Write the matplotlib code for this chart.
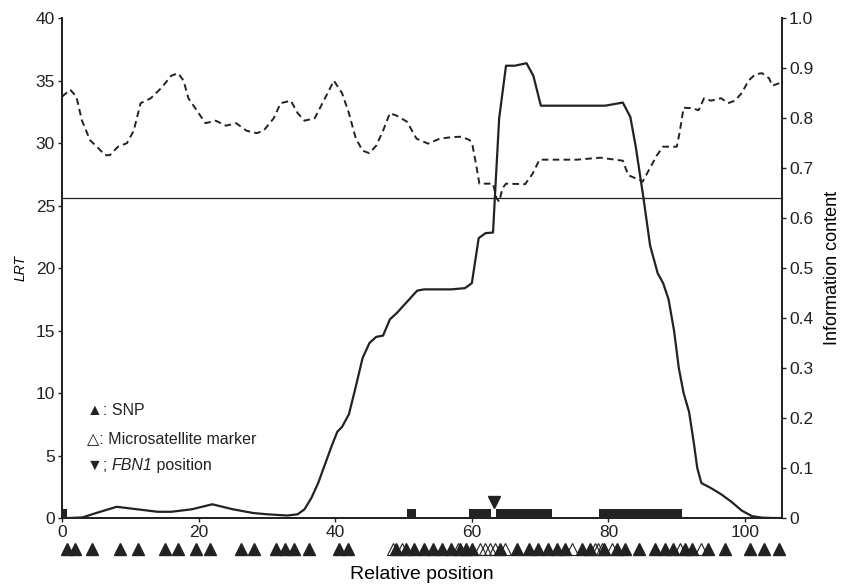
import matplotlib
matplotlib.use("Agg")
import matplotlib.pyplot as plt
import matplotlib.transforms as mtransforms

plt.rcParams['font.family'] = ['Liberation Sans', 'DejaVu Sans']

# LRT curve (left axis)
lrt_x = [0, 1, 3, 5, 8, 11, 14, 16, 19, 22, 25, 28, 30, 33, 34.5, 35.5, 36.5, 37.5, 38.5,
         39.5, 40.3, 41, 42, 43, 44, 45, 46, 47, 48, 49, 50, 51, 52, 53, 55, 57, 59, 60,
         61, 62, 63.1, 63.5, 64, 65, 66.3, 68, 69, 70.1, 76, 79.5, 82.1, 83.2, 84, 85.1,
         86.1, 87.2, 88, 88.8, 89.6, 90.3, 91, 91.8, 92.5, 93, 93.6, 95, 96.5, 98, 99.5,
         101, 102.5, 104, 105]
lrt_y = [0, 0, 0.05, 0.4, 0.9, 0.7, 0.5, 0.5, 0.7, 1.1, 0.7, 0.4, 0.3, 0.2, 0.3, 0.7, 1.6,
         2.8, 4.3, 5.8, 6.9, 7.3, 8.3, 10.5, 12.8, 14.0, 14.5, 14.6, 15.9, 16.4, 17.0, 17.6,
         18.2, 18.3, 18.3, 18.3, 18.4, 18.8, 22.4, 22.8, 22.85, 27, 32, 36.2, 36.2, 36.4,
         35.4, 33.0, 33.0, 33.0, 33.25, 32.1, 29.7, 25.7, 21.8, 19.6, 18.8, 17.5, 15.0,
         12.0, 10.0, 8.5, 6.0, 4.0, 2.8, 2.4, 1.9, 1.3, 0.6, 0.15, 0.03, 0, 0]

# information content (right axis)
info_x = [0, 1.2, 2.1, 2.9, 4.1, 5.1, 6.3, 7.0, 8.2, 9.5, 10.5, 11.5, 13, 14.5, 16, 17,
          17.8, 18.5, 19.5, 21, 22.5, 24, 25.5, 27, 28.5, 29.5, 31, 32, 33.5, 34.5, 35.5,
          37, 38.5, 39.8, 41, 42, 43, 44, 45, 46, 47, 48, 49, 50.5, 51.9, 53.6, 55.3, 57,
          58.5, 59.7, 60.1, 60.6, 61.1, 63.1, 63.6, 64.0, 64.5, 65, 67.8, 68.9, 69.9, 75.4,
          78.8, 82.1, 82.9, 84.6, 85.0, 87.1, 88, 90, 90.4, 91.0, 92.2, 93.2, 94, 95, 96.5,
          97.5, 98.5, 99.5, 100.5, 101.5, 102.5, 103.5, 104, 105]
info_y = [0.843, 0.857, 0.843, 0.796, 0.756, 0.743, 0.726, 0.726, 0.743, 0.75, 0.775, 0.83,
          0.84, 0.86, 0.885, 0.89, 0.875, 0.84, 0.82, 0.79, 0.795, 0.785, 0.79, 0.775, 0.77,
          0.775, 0.8, 0.83, 0.835, 0.81, 0.795, 0.8, 0.84, 0.875, 0.85, 0.81, 0.76, 0.735,
          0.73, 0.745, 0.775, 0.81, 0.805, 0.793, 0.759, 0.749, 0.759, 0.762, 0.763, 0.756,
          0.745, 0.709, 0.669, 0.669, 0.64, 0.633, 0.66, 0.669, 0.668, 0.689, 0.717, 0.717,
          0.721, 0.715, 0.686, 0.676, 0.673, 0.726, 0.743, 0.743, 0.77, 0.821, 0.82, 0.816,
          0.84, 0.835, 0.84, 0.83, 0.835, 0.85, 0.875, 0.888, 0.89, 0.88, 0.865, 0.87]

threshold = 25.6

# black blocks along the axis (start, end)
block_start = [0, 50.5, 59.6, 63.6, 78.6]
block_end = [0.7, 51.8, 62.8, 71.8, 90.7]
block_h = 0.7

fbn1_pos = 63.3

snp_pos = [0.8, 1.9, 4.35, 8.5, 11.1, 15.1, 17.0, 19.6, 21.6, 26.2, 28.1, 31.3, 32.6, 34.0,
           36.1, 40.5, 41.9, 48.9, 50.4, 51.6, 53.0, 54.3, 55.6, 57.0, 58.3, 59.2, 60.0,
           64.1, 66.6, 68.3, 69.7, 71.2, 72.4, 73.6, 76.1, 77.3, 79.3, 81.2, 82.4, 84.4,
           86.8, 88.3, 89.5, 91.2, 92.2, 94.6, 97.1, 100.7, 102.7, 104.9]
micro_pos = [48.4, 49.8, 57.9, 61.2, 61.9, 62.6, 63.4, 64.9, 74.7, 78.0, 78.5, 79.1, 80.5,
             90.5, 93.6]

fig = plt.figure(figsize=(8.45, 5.88), dpi=100)
ax = fig.add_axes([0.0734, 0.119, 0.852, 0.850])
ax2 = ax.twinx()

col = '#222222'
ax.plot(lrt_x, lrt_y, color=col, lw=1.6, zorder=3)
ax2.plot(info_x, info_y, color=col, lw=1.4, ls=(0, (3.4, 2.2)))
ax.axhline(threshold, color=col, lw=0.9)

widths = [e - s for s, e in zip(block_start, block_end)]
ax.bar(block_start, [block_h] * len(block_start), width=widths, align='edge',
       color=col, zorder=2)
ax.plot([fbn1_pos], [1.25], marker='v', color=col, ms=8, ls='none', zorder=4)

trans = mtransforms.blended_transform_factory(ax.transData, ax.transAxes)
ax.plot(snp_pos, [-0.062] * len(snp_pos), ls='none', marker='^', ms=8.5, color=col,
        transform=trans, clip_on=False)
ax.plot(micro_pos, [-0.062] * len(micro_pos), ls='none', marker='^', ms=8.5,
        mfc='none', mec=col, mew=0.8, transform=trans, clip_on=False)

fs = 11.5
ax.text(3.6, 8.6, '\u25b2: SNP', fontsize=fs, va='center', color=col)
ax.text(3.6, 6.4, '\u25b3: Microsatellite marker', fontsize=fs, va='center', color=col)
t1 = ax.text(3.6, 4.2, '\u25bc; ', fontsize=fs, va='center', color=col)
t2 = ax.annotate('FBN1', xy=(1, 0), xycoords=t1, va='bottom', fontsize=fs,
                 fontstyle='italic', color=col)
ax.annotate(' position', xy=(1, 0), xycoords=t2, va='bottom', fontsize=fs, color=col)

ax.set_xlim(0, 105.4)
ax.set_ylim(0, 40)
ax2.set_ylim(0, 1.0)
ax.set_xticks([0, 20, 40, 60, 80, 100])
ax.set_yticks(range(0, 41, 5))
ax2.set_yticks([0, 0.1, 0.2, 0.3, 0.4, 0.5, 0.6, 0.7, 0.8, 0.9, 1.0])
ax2.set_yticklabels(['0', '0.1', '0.2', '0.3', '0.4', '0.5', '0.6', '0.7', '0.8', '0.9', '1.0'])

for a in (ax, ax2):
    a.spines['top'].set_visible(False)
    for s in a.spines.values():
        s.set_linewidth(1.3)
        s.set_color(col)
    a.tick_params(length=3, width=1, colors=col, labelsize=12.5, pad=2)

ax.set_ylabel('LRT', fontstyle='italic', fontsize=10, labelpad=6)
ax2.set_ylabel('Information content', fontsize=13, labelpad=8)
ax.set_xlabel('Relative position', fontsize=14, labelpad=19)

fig.savefig('out.png', dpi=100)
